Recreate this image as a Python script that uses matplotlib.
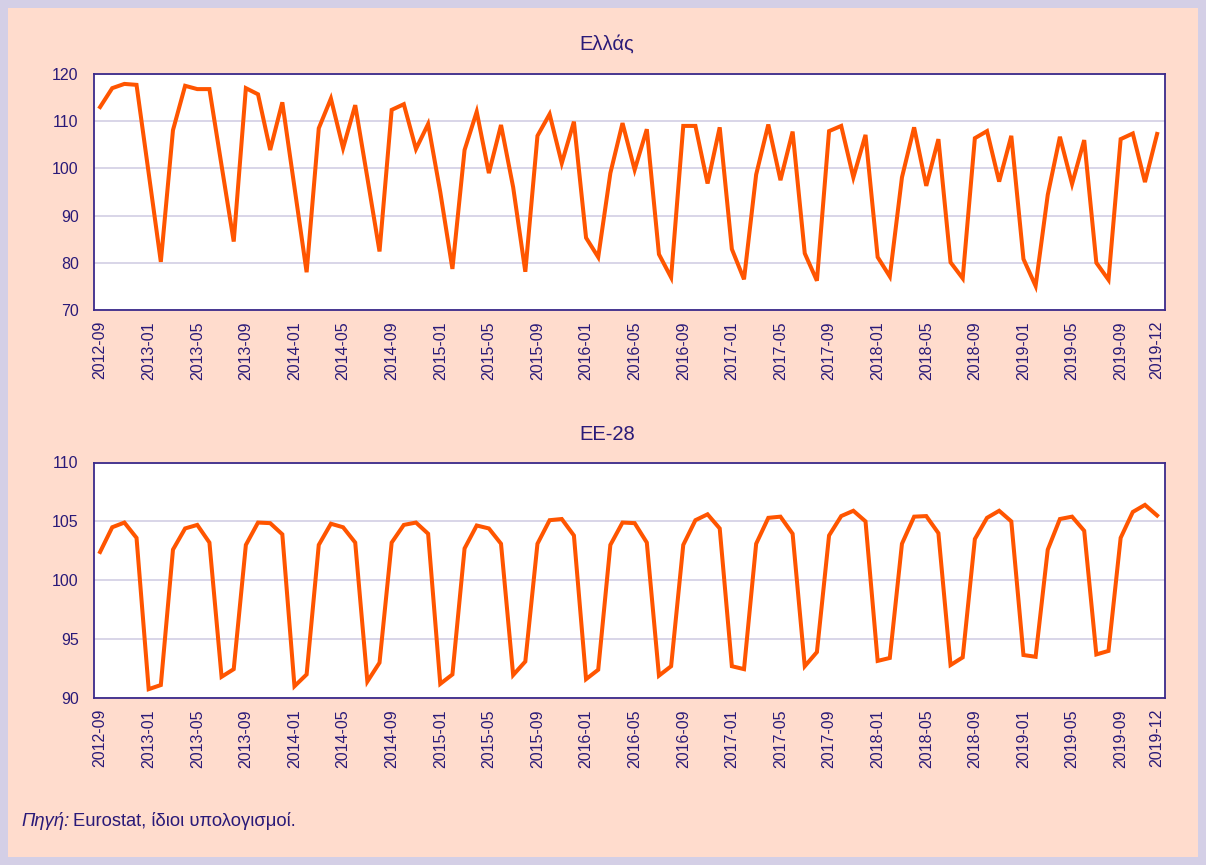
import matplotlib
matplotlib.use('Agg')
import matplotlib.pyplot as plt
from matplotlib.patches import Rectangle

plt.rcParams['font.family'] = ['Liberation Sans', 'DejaVu Sans']

# monthly indices 2012-09 .. 2019-12
months = [f'{y}-{m:02d}' for y in range(2012, 2020) for m in range(1, 13)]
months = months[months.index('2012-09'):]

greece = [113.0, 117.0, 117.9, 117.7,
          99.0, 80.2, 108.1, 117.5, 116.8, 116.8, 100.6, 84.5, 117.0, 115.7, 103.9, 114.0,
          96.0, 78.0, 108.5, 114.8, 104.3, 113.4, 98.0, 82.4, 112.4, 113.6, 104.1, 109.4,
          95.0, 78.7, 103.9, 112.0, 99.0, 109.2, 96.0, 78.1, 106.9, 111.5, 101.1, 109.9,
          85.3, 81.2, 99.0, 109.6, 99.7, 108.3, 81.8, 76.9, 109.0, 109.0, 96.8, 108.7,
          82.9, 76.5, 98.7, 109.3, 97.5, 107.8, 82.0, 76.2, 107.9, 109.0, 98.1, 107.1,
          81.2, 77.1, 98.1, 108.7, 96.3, 106.2, 80.1, 76.7, 106.4, 107.9, 97.2, 106.9,
          80.8, 75.1, 94.4, 106.7, 96.7, 106.0, 80.0, 76.4, 106.2, 107.4, 97.1, 107.3]

eu28 = [102.4, 104.5, 104.9, 103.6,
        90.75, 91.1, 102.6, 104.4, 104.7, 103.2, 91.8, 92.45, 103.0, 104.9, 104.85, 103.9,
        91.0, 92.0, 103.0, 104.8, 104.5, 103.2, 91.4, 93.0, 103.2, 104.7, 104.9, 103.95,
        91.2, 92.0, 102.7, 104.65, 104.4, 103.1, 91.95, 93.1, 103.1, 105.1, 105.2, 103.8,
        91.6, 92.4, 103.0, 104.9, 104.85, 103.2, 91.9, 92.7, 103.0, 105.1, 105.6, 104.4,
        92.7, 92.45, 103.1, 105.3, 105.4, 103.95, 92.7, 93.9, 103.8, 105.45, 105.9, 105.0,
        93.15, 93.4, 103.1, 105.4, 105.45, 104.0, 92.8, 93.45, 103.5, 105.3, 105.9, 105.0,
        93.65, 93.5, 102.6, 105.2, 105.4, 104.2, 93.7, 94.0, 103.6, 105.8, 106.4, 105.5]

tick_idx = list(range(0, len(months), 4)) + [len(months) - 1]
tick_labels = [months[i] for i in tick_idx]

txt = '#2A1A78'
spine_c = '#3B2A8A'
line_c = '#FF5500'
grid_c = '#D6D2E6'

fig = plt.figure(figsize=(12.06, 8.65), dpi=100, facecolor='#D4CFE6')
fig.patches.append(Rectangle((8 / 1206, 8 / 865), 1190 / 1206, 849 / 865,
                             transform=fig.transFigure, facecolor='#FFDCCD',
                             edgecolor='none', zorder=-10))

panels = [
    ('Ελλάς', greece, (70, 120), 10, [94 / 1206, 1 - 310 / 865, 1071 / 1206, 236 / 865], 1 - 50 / 865),
    ('ΕΕ-28', eu28, (90, 110), 5, [94 / 1206, 1 - 698 / 865, 1071 / 1206, 235.5 / 865], 1 - 440 / 865),
]

for title, vals, ylim, step, rect, ty in panels:
    ax = fig.add_axes(rect)
    ax.set_facecolor('white')
    ax.plot(range(len(vals)), vals, color=line_c, lw=2.9, solid_joinstyle='miter', zorder=3)
    ax.set_xlim(-0.5, len(vals) - 0.35)
    ax.set_ylim(*ylim)
    ax.set_yticks(range(ylim[0], ylim[1] + 1, step))
    ax.yaxis.grid(True, color=grid_c, lw=1.3)
    ax.set_axisbelow(True)
    ax.set_xticks(tick_idx)
    ax.set_xticklabels(tick_labels, rotation=90, va='top', ha='center')
    ax.tick_params(axis='y', length=0, pad=11, labelsize=11.5, labelcolor=txt)
    ax.tick_params(axis='x', length=0, pad=8, labelsize=11.5, labelcolor=txt)
    for s in ax.spines.values():
        s.set_color(spine_c)
        s.set_linewidth(1.3)
    fig.text(607 / 1206, ty, title, ha='center', va='baseline', fontsize=14.5, color=txt)

src = fig.text(21 / 1206, 1 - 826.5 / 865, 'Πηγή:', style='italic', fontsize=13.2,
               color=txt, va='baseline')
fig.canvas.draw()
bb = src.get_window_extent()
fig.text((bb.x1 + 4) / 1206, 1 - 826.5 / 865, 'Eurostat, ίδιοι υπολογισμοί.',
         fontsize=13.2, color=txt, va='baseline')

fig.savefig('out.png', dpi=100, facecolor=fig.get_facecolor())
